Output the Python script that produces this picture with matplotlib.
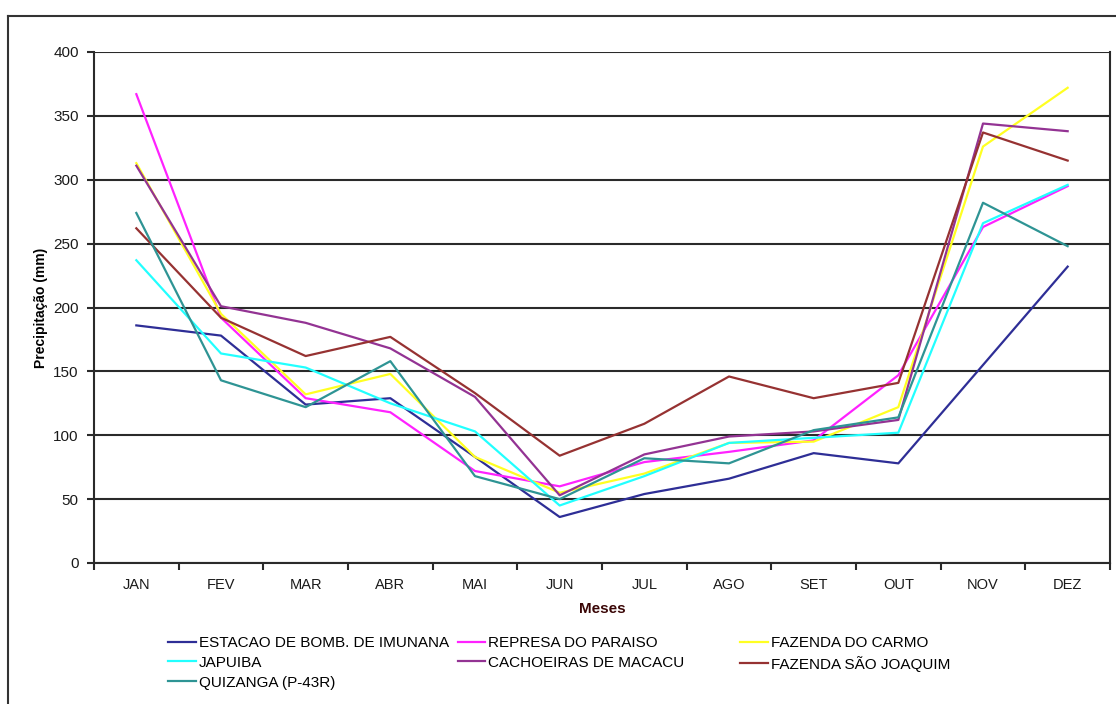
import matplotlib
matplotlib.use("Agg")
import matplotlib.pyplot as plt
from matplotlib.lines import Line2D

plt.rcParams.update({
    "font.family": ["Liberation Sans", "DejaVu Sans"],
})

# ---- dados (mm por mês) ----
meses = ["JAN", "FEV", "MAR", "ABR", "MAI", "JUN", "JUL", "AGO", "SET", "OUT", "NOV", "DEZ"]
estacao = [186, 178, 124, 129, 83, 36, 54, 66, 86, 78, 155, 232]
represa = [367, 192, 129, 118, 72, 60, 79, 87, 96, 147, 263, 295]
carmo = [313, 195, 132, 148, 83, 55, 70, 94, 95, 122, 326, 372]
japuiba = [237, 164, 153, 125, 103, 45, 68, 94, 98, 102, 266, 296]
cachoeiras = [311, 201, 188, 168, 130, 53, 85, 99, 103, 112, 344, 338]
sjoaquim = [262, 192, 162, 177, 133, 84, 109, 146, 129, 141, 337, 315]
quizanga = [274, 143, 122, 158, 68, 50, 82, 78, 104, 114, 282, 248]

series = [
    ("ESTACAO DE BOMB. DE IMUNANA", estacao, "#2e2e96"),
    ("REPRESA DO PARAISO", represa, "#ff22ff"),
    ("FAZENDA DO CARMO", carmo, "#ffff22"),
    ("JAPUIBA", japuiba, "#22ffff"),
    ("CACHOEIRAS DE MACACU", cachoeiras, "#933393"),
    ("FAZENDA SÃO JOAQUIM", sjoaquim, "#963232"),
    ("QUIZANGA (P-43R)", quizanga, "#2e9494"),
]

W, H = 1116, 704
fig = plt.figure(figsize=(W / 100, H / 100), dpi=100)
ax = fig.add_axes([94 / W, 1 - 563 / H, (1110 - 94) / W, (563 - 52) / H])

x = list(range(len(meses)))
handles = {}
for label, vals, color in series:
    ln, = ax.plot(x, vals, color=color, lw=1.6, label=label, zorder=3)
    handles[label] = ln

ax.set_xlim(-0.5, len(meses) - 0.5)
ax.set_ylim(0, 400)
ax.set_yticks(range(0, 401, 50))
ax.yaxis.grid(True, color="#2a2a2a", lw=1.5, zorder=1)
ax.set_axisbelow(True)

ax.set_xticks(x)
ax.set_xticklabels(meses, fontsize=10.5, color="#1a1a1a")
ax.set_xticks([i - 0.5 for i in range(len(meses) + 1)], minor=True)
ax.tick_params(axis="x", which="major", length=0, pad=11)
ax.tick_params(axis="x", which="minor", length=5, width=1.5, color="#2a2a2a")
ax.tick_params(axis="y", length=5, width=1.5, color="#2a2a2a", labelsize=11,
               labelcolor="#1a1a1a", pad=6)

for s in ["left", "bottom", "right"]:
    ax.spines[s].set_color("#2a2a2a")
    ax.spines[s].set_linewidth(1.5)
ax.spines["top"].set_visible(False)

ax.set_ylabel("Precipitação (mm)", fontsize=10, fontweight="bold", labelpad=3.5)
ax.set_xlabel("Meses", fontsize=11, fontweight="bold", color="#3a0606", labelpad=7)

# legenda: duas primeiras colunas + terceira coluna à parte
leg_kw = dict(frameon=False, loc="upper left", fontsize=11, handlelength=1.8,
              handletextpad=0.2, labelspacing=0.38, columnspacing=0.6,
              borderaxespad=0, borderpad=0)
ordem12 = ["ESTACAO DE BOMB. DE IMUNANA", "JAPUIBA", "QUIZANGA (P-43R)",
           "REPRESA DO PARAISO", "CACHOEIRAS DE MACACU"]
ordem3 = ["FAZENDA DO CARMO", "FAZENDA SÃO JOAQUIM"]
fig.legend([handles[k] for k in ordem12], ordem12, ncol=2,
           bbox_to_anchor=(168 / W, 1 - 636 / H), **leg_kw)
fig.legend([handles[k] for k in ordem3], ordem3, ncol=1,
           bbox_to_anchor=(740 / W, 1 - 636 / H), **leg_kw)

# moldura externa
fig.add_artist(Line2D([8 / W, 8 / W], [0, 1 - 16 / H], color="#333333", lw=1.5))
fig.add_artist(Line2D([8 / W, 1], [1 - 16 / H, 1 - 16 / H], color="#333333", lw=1.5))

fig.savefig("out.png", dpi=100)
